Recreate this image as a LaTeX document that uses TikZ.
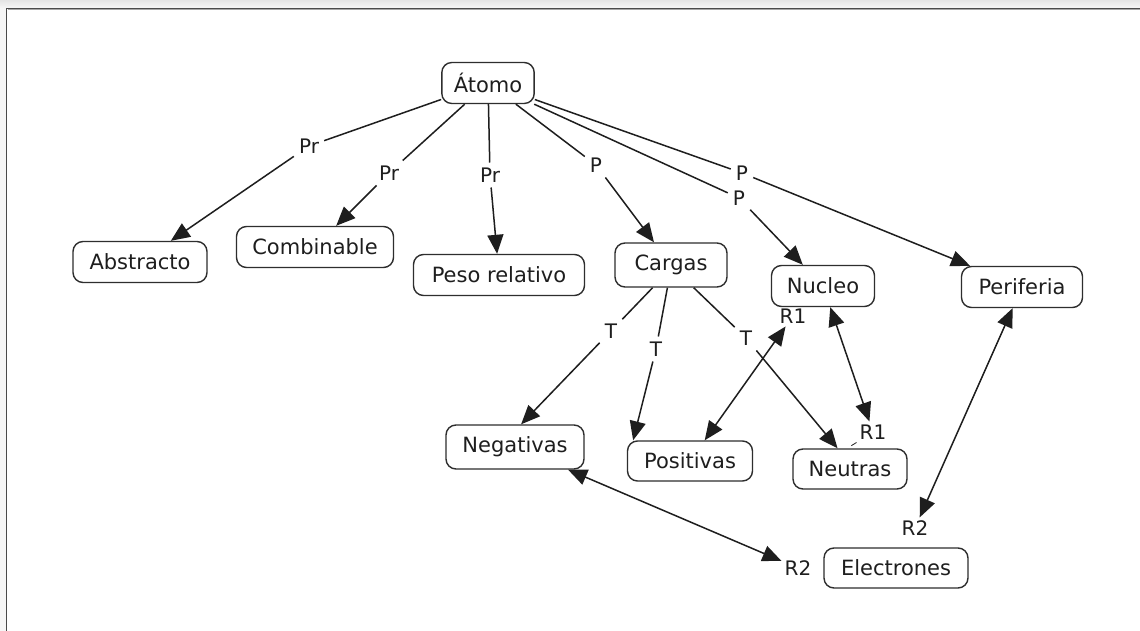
\documentclass[tikz,border=0pt]{standalone}
\usepackage{fontspec}
\setmainfont{DejaVu Sans}
\usetikzlibrary{arrows.meta}
\definecolor{ink}{HTML}{1E1E1E}
\definecolor{boxline}{HTML}{2E2E2E}
\definecolor{frameline}{HTML}{4A4A4A}
\definecolor{shadetop}{HTML}{E4E4E4}
\definecolor{shadelow}{HTML}{F6F6F6}
\begin{document}
\begin{tikzpicture}[x=1pt,y=-1pt,
  concept/.style={draw=boxline,line width=1.4pt,rounded corners=10pt,fill=white,
    text=ink,font=\fontsize{21}{24}\selectfont,minimum height=41pt,inner xsep=12pt,anchor=center},
  linkword/.style={text=ink,font=\fontsize{20}{23}\selectfont,inner sep=5pt},
  link/.style={draw=ink,line width=1.5pt},
  bigtip/.tip={Triangle[length=19pt,width=16pt]},
  tip/.style={link,-bigtip},
  both/.style={link,bigtip-bigtip}]
\useasboundingbox (0,0) rectangle (1140,631);
% window frame
\fill[shadelow] (0,0) rectangle (1140,631);
\shade[top color=shadetop,bottom color=shadelow] (0,0) rectangle (1140,8);
\fill[white] (7,9) rectangle (1140,631);
\draw[frameline,line width=1.1pt] (6.5,631) -- (6.5,8.5) -- (1140,8.5);
\draw[black!35,line width=0.5pt] (7.5,9.6) -- (1140,9.6);

% concepts
\node[concept] (atomo) at (488,83) {Átomo};
\node[concept,minimum width=134pt] (abstracto) at (140,262) {Abstracto};
\node[concept,minimum width=157pt] (combinable) at (315,247) {Combinable};
\node[concept,minimum width=171pt] (peso) at (499,275) {Peso relativo};
\node[concept,minimum width=112pt,minimum height=44pt] (cargas) at (671,265) {Cargas};
\node[concept,minimum width=103pt] (nucleo) at (823,286) {Nucleo};
\node[concept,minimum width=121pt] (periferia) at (1022,287) {Periferia};
\node[concept,minimum width=138pt,minimum height=44pt] (negativas) at (515,447) {Negativas};
\node[concept,minimum width=125pt,minimum height=40pt] (positivas) at (690,461) {Positivas};
\node[concept,minimum width=114pt,minimum height=40pt] (neutras) at (850,469) {Neutras};
\node[concept,minimum width=144pt,minimum height=40pt] (electrones) at (896,568) {Electrones};

% linking words
\node[linkword] (pr1) at (309,146) {Pr};
\node[linkword] (pr2) at (389,173) {Pr};
\node[linkword] (pr3) at (490,175) {Pr};
\node[linkword] (p1) at (596,165) {P};
\node[linkword] (p2) at (739,198) {P};
\node[linkword] (p3) at (742,173) {P};
\node[linkword] (t1) at (611,331) {T};
\node[linkword] (t2) at (656,349) {T};
\node[linkword] (t3) at (746,338) {T};
\node[linkword,inner sep=3pt] (r1a) at (793,316) {R1};
\node[linkword,inner sep=3pt] (r1b) at (873,432) {R1};
\node[linkword,inner sep=3pt] (r2a) at (915,528) {R2};
\node[linkword,inner sep=3pt] (r2b) at (798,568) {R2};

% propositions from Átomo
\draw[link] (atomo) -- (pr1);  \draw[tip] (pr1) -- (abstracto);
\draw[link] (atomo) -- (pr2);  \draw[tip] (pr2) -- (combinable);
\draw[link] (atomo) -- (pr3);  \draw[tip] (pr3) -- (peso);
\draw[link] (atomo) -- (p1);   \draw[tip] (p1) -- (cargas);
\draw[link] (atomo) -- (p2);   \draw[tip] (p2) -- (nucleo);
\draw[link] (atomo) -- (p3);   \draw[tip] (p3) -- (periferia);

% kinds of charge
\draw[link] (cargas.231) -- (t1);  \draw[tip] (t1) -- (negativas.75);
\draw[link] (cargas.261) -- (t2);  \draw[tip] (t2) -- (positivas.160);
\draw[link] (cargas.315) -- (t3);  \draw[tip] (t3) -- (neutras.121);

% relations R1 / R2
\draw[both] (positivas) -- (r1a);
\draw[both] (nucleo) -- (r1b);
\draw[link,line width=0.8pt,shorten >=5pt] (r1b.south west) -- (neutras.98);
\draw[both] (periferia) -- (r2a);
\draw[both] (negativas) -- (r2b);
\end{tikzpicture}
\end{document}
